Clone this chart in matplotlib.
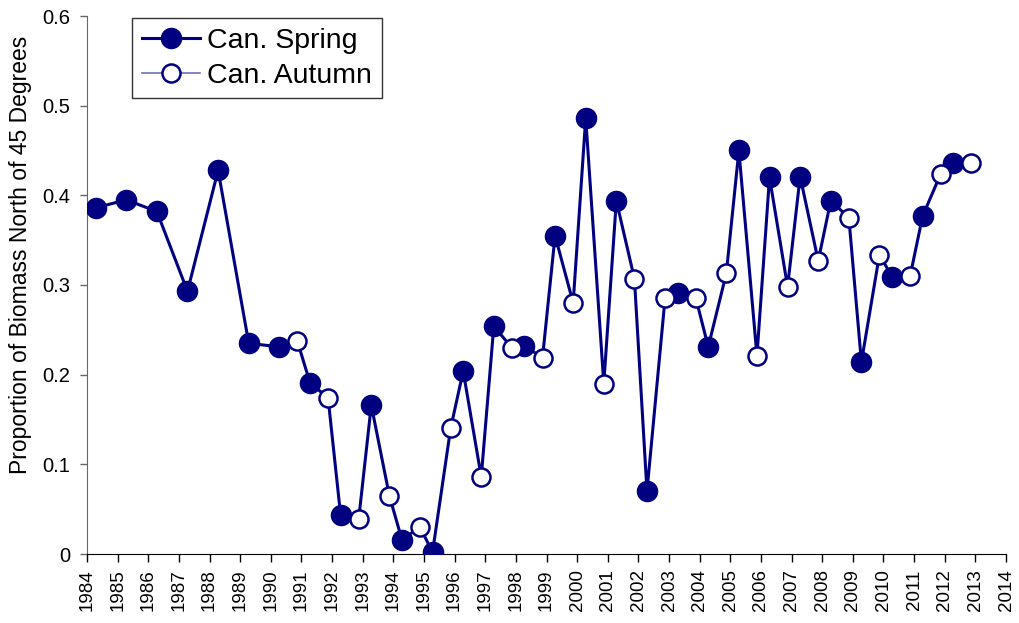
import numpy as np
import matplotlib
matplotlib.use("Agg")
import matplotlib.pyplot as plt
from matplotlib.lines import Line2D

plt.rcParams['font.family'] = ['Liberation Sans', 'DejaVu Sans']

# donnees
spring_years = list(range(1984, 2013))
spring_vals = [0.386, 0.395, 0.382, 0.293, 0.428, 0.235, 0.231, 0.191, 0.043, 0.166,
               0.016, 0.002, 0.204, 0.254, 0.232, 0.355, 0.486, 0.394, 0.070, 0.291,
               0.231, 0.450, 0.420, 0.421, 0.394, 0.214, 0.309, 0.377, 0.436]

autumn_years = list(range(1990, 2013))
autumn_vals = [0.237, 0.174, 0.039, 0.065, 0.030, 0.140, 0.086, 0.230, 0.219, 0.280,
               0.190, 0.307, 0.285, 0.286, 0.313, 0.221, 0.298, 0.327, 0.375, 0.334,
               0.310, 0.424, 0.436]

year_ticks = list(range(1984, 2015))

navy = '#000080'

# position dans l'annee: printemps ~ debut, automne ~ fin
xs = np.array(spring_years) + 0.28
xa = np.array(autumn_years) + 0.87

fig = plt.figure(figsize=(10.19, 6.23), dpi=100)
ax = fig.add_axes([87 / 1019, 1 - 554 / 623, (1006 - 87) / 1019, (554 - 16) / 623])

# une seule ligne chronologique
allx = np.concatenate([xs, xa])
ally = np.concatenate([spring_vals, autumn_vals])
order = np.argsort(allx)
ax.plot(allx[order], ally[order], color=navy, lw=2.2, zorder=2)

ax.plot(xs, spring_vals, 'o', color=navy, ms=14.5, mec=navy, zorder=3)
ax.plot(xa, autumn_vals, 'o', color=navy, ms=13, mfc='white', mec=navy, mew=1.8, zorder=3)

ax.set_xlim(1984, 2014)
ax.set_ylim(0, 0.6)
ax.set_xticks(year_ticks)
ax.set_xticklabels([str(y) for y in year_ticks], rotation=90, fontsize=13.5)
ax.set_yticks([0, 0.1, 0.2, 0.3, 0.4, 0.5, 0.6])
ax.set_yticklabels(['0', '0.1', '0.2', '0.3', '0.4', '0.5', '0.6'], fontsize=14.5)
ax.tick_params(axis='x', direction='out', length=6, width=1, pad=5)
ax.tick_params(axis='y', direction='out', length=5, width=1, pad=7, color='#666666')
ax.set_ylabel('Proportion of Biomass North of 45 Degrees', fontsize=16.5)
ax.yaxis.set_label_coords(-0.06, 0.556)

for s in ['top', 'right']:
    ax.spines[s].set_visible(False)
ax.spines['left'].set_color('#666666')
ax.spines['bottom'].set_color('black')

handles = [
    Line2D([0], [0], color=navy, lw=2.2, marker='o', ms=14.5, mfc=navy, mec=navy),
    Line2D([0], [0], color='#7070b8', lw=1.2, marker='o', ms=13, mfc='white', mec=navy, mew=1.8),
]
leg = ax.legend(handles, ['Can. Spring', 'Can. Autumn'], loc='upper left',
                bbox_to_anchor=(45 / 919, 1 - 2 / 538), fontsize=20.5, frameon=True, fancybox=False,
                edgecolor='black', handlelength=2.05, borderpad=0.35, labelspacing=0.3,
                handletextpad=0.25, borderaxespad=0)
leg.get_frame().set_linewidth(1.0)

fig.savefig('out.png', dpi=100)
